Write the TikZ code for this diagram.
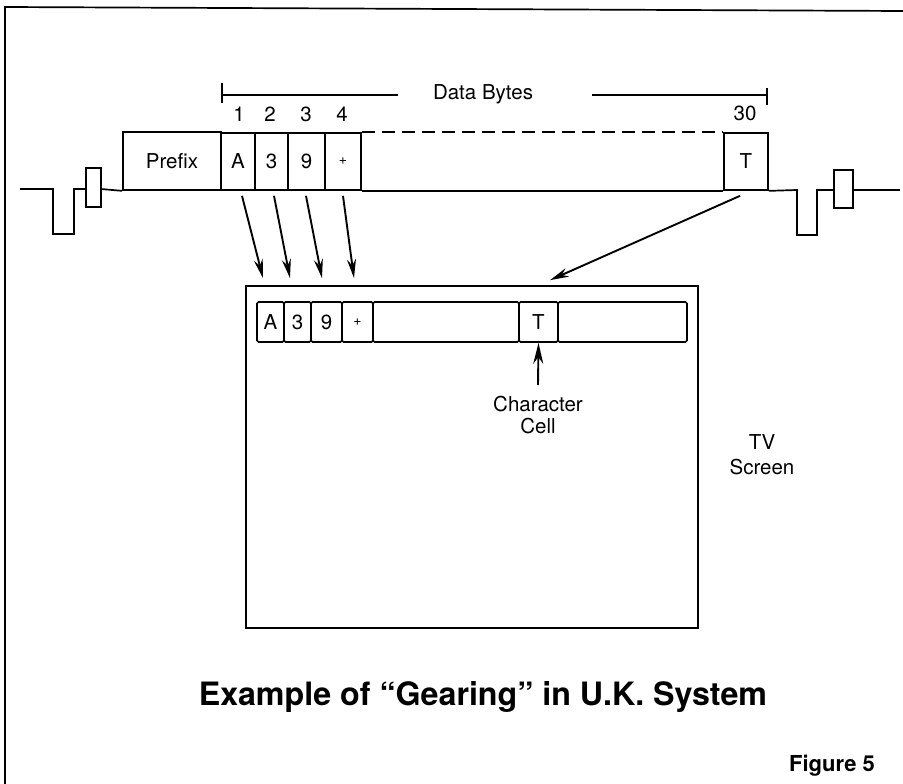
\documentclass[tikz,border=0pt]{standalone}
\usepackage{fontspec}
\setmainfont{TeX Gyre Heros}
\usetikzlibrary{arrows.meta,calc}
\begin{document}
\begin{tikzpicture}[x=1pt,y=-1pt,line width=1.7pt,line join=miter,
  lbl/.style={font=\fontsize{20.5}{24}\selectfont,inner sep=0pt},
  cell/.style={draw,rectangle,inner sep=0pt,font=\fontsize{20.5}{24}\selectfont},
  scell/.style={draw,rectangle,inner sep=0pt,rounded corners=1.5pt,minimum height=40,font=\fontsize{20.5}{24}\selectfont},
  arr/.style={-{Stealth[length=19pt,width=9pt]},line width=1.9pt}]
\useasboundingbox (0,0) rectangle (903,784);
% frame
\draw (5,784) -- (5,7) -- (903,11);
% signal left
\draw (20,189) -- (53,189) -- (53,234) -- (74,234) -- (74,189) -- (86,189);
\draw (86,168) rectangle (101,207);
\node[cell,minimum width=98,minimum height=58] (prefix) at (172,161) {Prefix};
\draw (101,189) -- (prefix.south west);
% data cells
\node[cell,minimum width=34,minimum height=57] (cA) at (238,161.5) {A};
\node[cell,minimum width=33,minimum height=57] (c3) at (271.5,161.5) {3};
\node[cell,minimum width=37,minimum height=57] (c9) at (306.5,161.5) {9};
\node[cell,minimum width=36,minimum height=57,font=\fontsize{14}{15}\selectfont] (cP) at (343,161.5) {+};
\node[cell,minimum width=44,minimum height=57] (cT) at (746,161.5) {T};
\draw[dash pattern=on 13pt off 7pt] (cP.north east) -- (cT.north west);
\draw (cP.south east) -- (cT.south west);
% signal right
\draw (cT.south east) -- (797,190) -- (797,235) -- (817,235) -- (817,190) -- (834,190);
\draw (834,170) rectangle (853,208);
\draw (853,190) -- (900,190);
% numbers
\node[lbl] (n1) at (239,114) {1};
\node[lbl] (n2) at (270,114) {2};
\node[lbl] (n3) at (306,114) {3};
\node[lbl] (n4) at (342,114) {4};
\node[lbl] (n30) at (745,113) {30};
% data bytes bracket
\node[lbl] (db) at (483,94) {Data Bytes};
\draw (222,83) -- (222,103);
\draw (222,95) -- (398,95);
\draw (592,95) -- (767,95);
\draw (767,88) -- (767,105);
% screen
\node[draw,rectangle,minimum width=452,minimum height=342,inner sep=0pt] (scr) at (472,457) {};
\node[scell,minimum width=27] (sA) at (270.5,322) {A};
\node[scell,minimum width=27] (s3) at (297.5,322) {3};
\node[scell,minimum width=31] (s9) at (326.5,322) {9};
\node[scell,minimum width=31,font=\fontsize{14}{15}\selectfont] (sP) at (357.5,322) {+};
\node[scell,minimum width=146] (sb1) at (446,322) {};
\node[scell,minimum width=39] (sT) at (538.5,322) {T};
\node[scell,minimum width=129] (sb2) at (622.5,322) {};
% arrows
\draw[arr] ($(cA.south)+(4,5)$) -- ($(sA.north)+(-7.5,-23)$);
\draw[arr] ($(c3.south)+(2.5,5)$) -- ($(s3.north)+(-7.5,-23)$);
\draw[arr] ($(c9.south)+(-0.5,5)$) -- ($(s9.north)+(-4.5,-23)$);
\draw[arr] ($(cP.south)+(0,5)$) -- ($(sP.north)+(-3.5,-23)$);
\draw[arr] ($(cT.south)+(-6,5)$) -- ($(sT.north)+(11.5,-21)$);
% character cell
\node[lbl,align=center,font=\fontsize{20.5}{22}\selectfont,anchor=north] (cc) at (538,395) {Character\\Cell};
\draw[arr,-{Stealth[length=21pt,width=10pt]}] ($(cc.north)+(0,-10)$) -- (sT.south);
\node[lbl,align=center,font=\fontsize{20.5}{25}\selectfont] (tv) at (762,455) {TV\\Screen};
% captions
\node[inner sep=0pt,font=\fontsize{32.2}{36}\selectfont\bfseries] (cap) at (483,697) {Example of “Gearing” in U.K. System};
\node[inner sep=0pt,font=\fontsize{22}{26}\selectfont\bfseries] (fig) at (832,766) {Figure 5};
\end{tikzpicture}
\end{document}
